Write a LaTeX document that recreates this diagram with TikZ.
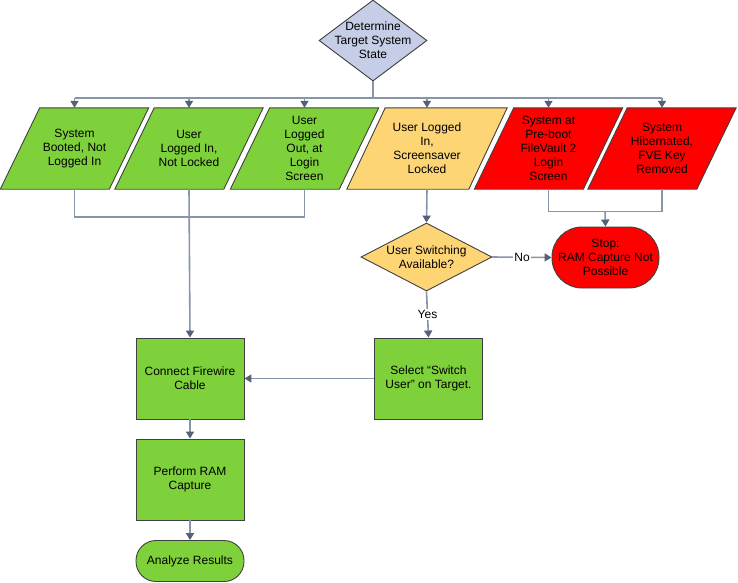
\documentclass[tikz,border=0pt]{standalone}
\usepackage{fontspec}
\setmainfont{Liberation Sans}
\usetikzlibrary{shapes.geometric,arrows.meta,backgrounds}

\definecolor{stategreen}{RGB}{127,209,59}
\definecolor{stateyellow}{RGB}{253,213,117}
\definecolor{statered}{RGB}{255,0,0}
\definecolor{startblue}{RGB}{197,205,231}
\definecolor{edgegray}{RGB}{64,64,64}
\definecolor{linkgray}{RGB}{136,148,168}
\definecolor{tipgray}{RGB}{84,96,118}

\begin{document}
\begin{tikzpicture}[x=1pt,y=-1pt,
  every node/.style={font=\fontsize{12}{14}\selectfont, align=center, text=black},
  outline/.style={draw=edgegray, line width=0.9pt},
  state/.style={minimum width=148pt, minimum height=81pt, inner sep=0pt},
  stepbox/.style={outline, fill=stategreen, minimum width=108pt, minimum height=81pt, inner sep=0pt},
  link/.style={linkgray, line width=1.6pt},
  arr/.style={link, -{Triangle[length=7pt,width=8pt,color=tipgray]}}]
\useasboundingbox (0,0) rectangle (738,582);

% start
\node[outline, diamond, fill=startblue, aspect=1.33, minimum width=108pt, minimum height=81pt,
  inner sep=-9pt] (det) at (373,40.5) {Determine\\Target System\\State};
\coordinate (bus) at (373,98);

% system states
\node[state] (p1) at (74.5,148.5) {System\\Booted, Not\\Logged In};
\node[state] (p2) at (189,148.5) {User\\Logged In,\\Not Locked};
\node[state] (p3) at (304.5,148.5) {User\\Logged\\Out, at\\Login\\Screen};
\node[state, minimum width=160pt] (p4) at (427,148.5) {User Logged\\In,\\Screensaver\\Locked};
\node[state] (p5) at (548.5,148.5) {System at\\Pre-boot\\FileVault 2\\Login\\Screen};
\node[state] (p6) at (662,148.5) {System\\Hibernated,\\FVE Key\\Removed};

\begin{scope}[on background layer]
\foreach \p/\c/\w in {p1/stategreen/109, p2/stategreen/109, p3/stategreen/109,
                      p4/stateyellow/122, p5/statered/109, p6/statered/109}
  \draw[outline, fill=\c] (\p.south west) -- ++(\w,0) -- (\p.north east) -- ++(-\w,0) -- cycle;
\end{scope}

%--------------------------------------------------------

\node[outline, diamond, fill=stateyellow, aspect=1.93, minimum width=131pt, minimum height=68pt,
  inner sep=-7pt] (switch) at (426.5,257) {User Switching\\Available?};
\node[outline, fill=statered, rounded corners=30pt, minimum width=107pt, minimum height=61pt,
  inner sep=0pt] (stop) at (605.5,257.5) {Stop:\\RAM Capture Not\\Possible};

\node[stepbox] (select) at (428.5,378.5) {Select “Switch\\User” on Target.};
\node[stepbox] (connect) at (190,378.5) {Connect Firewire\\Cable};
\node[stepbox] (perform) at (190,479.5) {Perform RAM\\Capture};
\node[outline, fill=stategreen, rounded corners=20pt, minimum width=108pt, minimum height=41pt,
  inner sep=0pt] (analyze) at (190,561) {Analyze Results};

\coordinate (join1) at (190,217);
\coordinate (join2) at (605,211.5);

%--------------------------------------------------------

\draw[link] (det.south) -- (bus);
\draw[link] (bus -| p1.north) -- (bus -| p6.north);
\draw[arr] (bus -| p1.north) -- (p1.north);
\draw[arr] (bus -| p2.north) -- (p2.north);
\draw[arr] (bus -| p3.north) -- (p3.north);
\draw[arr] (bus -| p4.north) -- (p4.north);
\draw[arr] (bus -| p5.north) -- (p5.north);
\draw[arr] (bus -| p6.north) -- (p6.north);

\draw[link] (p1.south) |- (join1) -| (p3.south);
\draw[arr] (p2.south) -- (connect.north);
\draw[link] (p5.south) |- (join2) -| (p6.south);
\draw[arr] (join2) -- (stop.north);
\draw[arr] (p4.south) -- (switch.north);

\draw[arr] (switch.east) -- node[fill=white, inner sep=1pt] {No} (stop.west);
\draw[arr] (switch.south) -- node[fill=white, inner sep=1pt] {Yes} (select.north);
\draw[arr] (select.west) -- (connect.east);
\draw[arr] (connect.south) -- (perform.north);
\draw[arr] (perform.south) -- (analyze.north);
\end{tikzpicture}
\end{document}
